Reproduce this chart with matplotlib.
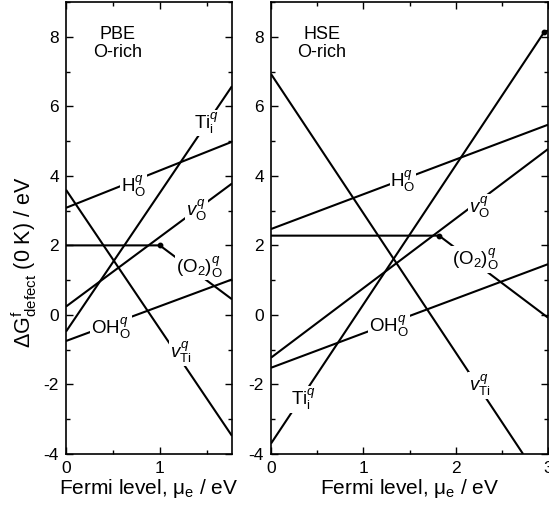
import matplotlib
matplotlib.use("Agg")
import matplotlib.pyplot as plt
from matplotlib.ticker import MultipleLocator

plt.rcParams['font.family'] = ['Liberation Sans', 'DejaVu Sans']
plt.rcParams['mathtext.fontset'] = 'custom'
plt.rcParams['mathtext.rm'] = 'Liberation Sans'
plt.rcParams['mathtext.it'] = 'Liberation Sans:italic'
plt.rcParams['mathtext.bf'] = 'Liberation Sans:bold'
plt.rcParams['axes.unicode_minus'] = False

# ---------------- data ----------------
pbe_xmax = 1.77
hse_xmax = 3.0

# PBE, O-rich
pbe_H_x = [0, 1.77];          pbe_H_y = [3.08, 4.98]
pbe_Ti_x = [0, 1.77];         pbe_Ti_y = [-0.48, 6.58]
pbe_VTi_x = [0, 1.77];        pbe_VTi_y = [3.60, -3.48]
pbe_VO_x = [0, 1.77];         pbe_VO_y = [0.24, 3.78]
pbe_O2_x = [0, 1.0, 1.77];    pbe_O2_y = [2.0, 2.0, 0.45]
pbe_OH_x = [0, 1.77];         pbe_OH_y = [-0.75, 1.02]
pbe_dots_x = [1.0];           pbe_dots_y = [2.0]

# HSE, O-rich
hse_H_x = [0, 3.0];           hse_H_y = [2.47, 5.47]
hse_Ti_x = [0, 2.96, 3.0];    hse_Ti_y = [-3.70, 8.14, 8.18]
hse_VTi_x = [0, 2.73];        hse_VTi_y = [6.93, -4.0]
hse_VO_x = [0, 3.0];          hse_VO_y = [-1.23, 4.77]
hse_O2_x = [0, 1.82, 3.0];    hse_O2_y = [2.28, 2.28, -0.08]
hse_OH_x = [0, 3.0];          hse_OH_y = [-1.52, 1.46]
hse_dots_x = [1.82, 2.96];    hse_dots_y = [2.28, 8.14]

labels = [r'H$_\mathrm{O}^{q}$', r'Ti$_\mathrm{i}^{q}$', r'$v_\mathrm{Ti}^{q}$',
          r'$v_\mathrm{O}^{q}$', r'(O$_2$)$_\mathrm{O}^{q}$', r'OH$_\mathrm{O}^{q}$']
pbe_lab_x = [0.72, 1.50, 1.22, 1.39, 1.42, 0.48]
pbe_lab_y = [3.70, 5.52, -1.09, 3.00, 1.38, -0.38]
hse_lab_x = [1.43, 0.35, 2.26, 2.26, 2.21, 1.28]
hse_lab_y = [3.85, -2.44, -2.04, 3.10, 1.60, -0.32]

xticks_pbe = [0, 1]
xticks_hse = [0, 1, 2, 3]
yticks = [-4, -2, 0, 2, 4, 6, 8]

# ---------------- figure ----------------
W, H = 549, 509
fig = plt.figure(figsize=(W / 100, H / 100), dpi=100)
ax1 = fig.add_axes([66 / W, 1 - 454 / H, (232 - 66) / W, (454 - 2) / H])
ax2 = fig.add_axes([271 / W, 1 - 454 / H, (548 - 271) / W, (454 - 2) / H])

lw = 1.5
tick_fs = 12.5
lab_fs = 13.5


def draw(ax, series, dots_x, dots_y, lab_x, lab_y, title, xmax, xt):
    for xs, ys in series:
        ax.plot(xs, ys, color='black', lw=lw, solid_capstyle='butt', clip_on=True)
    ax.plot(dots_x, dots_y, 'o', color='black', ms=3.2, clip_on=False)
    for t, x, y in zip(labels, lab_x, lab_y):
        ax.text(x, y, t, fontsize=lab_fs, ha='center', va='center', zorder=5,
                bbox=dict(facecolor='white', edgecolor='none', pad=0.6))
    ax.text(0.55, 7.8, title, fontsize=13, ha='center', va='center',
            multialignment='center', linespacing=1.1)
    ax.set_xlim(0, xmax)
    ax.set_ylim(-4, 9)
    ax.set_xticks(xt)
    ax.set_yticks(yticks)
    ax.xaxis.set_minor_locator(MultipleLocator(0.5))
    ax.yaxis.set_minor_locator(MultipleLocator(1))
    ax.tick_params(which='both', direction='in', top=True, right=True,
                   labelsize=tick_fs, width=1.0)
    ax.tick_params(which='major', length=5, pad=5)
    ax.tick_params(which='minor', length=3)
    for s in ax.spines.values():
        s.set_linewidth(1.2)
    ax.set_xlabel(r'Fermi level, μ$_\mathrm{e}$ / eV', fontsize=15, labelpad=1)


draw(ax1,
     [(pbe_H_x, pbe_H_y), (pbe_Ti_x, pbe_Ti_y), (pbe_VTi_x, pbe_VTi_y),
      (pbe_VO_x, pbe_VO_y), (pbe_O2_x, pbe_O2_y), (pbe_OH_x, pbe_OH_y)],
     pbe_dots_x, pbe_dots_y, pbe_lab_x, pbe_lab_y, 'PBE\nO-rich', pbe_xmax, xticks_pbe)
draw(ax2,
     [(hse_H_x, hse_H_y), (hse_Ti_x, hse_Ti_y), (hse_VTi_x, hse_VTi_y),
      (hse_VO_x, hse_VO_y), (hse_O2_x, hse_O2_y), (hse_OH_x, hse_OH_y)],
     hse_dots_x, hse_dots_y, hse_lab_x, hse_lab_y, 'HSE\nO-rich', hse_xmax, xticks_hse)

fig.text(24 / W, 1 - 262 / H, r'ΔG$^\mathrm{f}_\mathrm{defect}$ (0 K) / eV',
         rotation=90, ha='center', va='center', fontsize=15.5)

fig.savefig('out.png', dpi=100)
